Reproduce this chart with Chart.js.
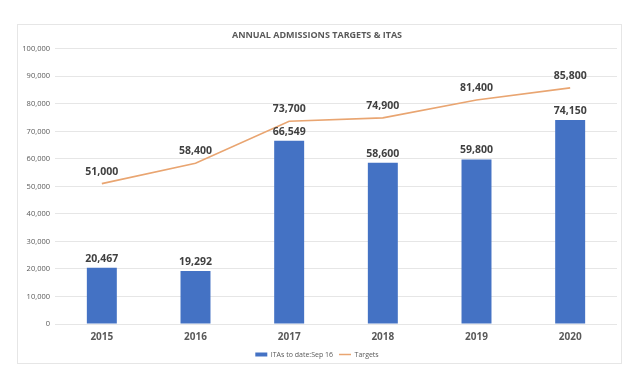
<!DOCTYPE html>
<html>
<head>
<meta charset="utf-8">
<script src="https://cdn.jsdelivr.net/npm/chart.js@4/dist/chart.umd.min.js"></script>
<style>
  html, body { margin: 0; padding: 0; background: #fff; }
  #wrap { width: 640px; height: 383px; position: relative; }
</style>
</head>
<body>
<div id="wrap"><canvas id="admissionsChart"></canvas></div>
<script>
// chart data
var years = ['2015', '2016', '2017', '2018', '2019', '2020'];
var itas = [20467, 19292, 66549, 58600, 59800, 74150];
var targets = [51000, 58400, 73700, 74900, 81400, 85800];

var barColor = '#4472C4';
var lineColor = '#E9A571';
var textColor = '#595959';
var fontFamily = '"Open Sans", sans-serif';

// white background + light frame round the chart
var framePlugin = {
    id: 'frame',
    beforeDraw: function (chart) {
        var ctx = chart.ctx;
        ctx.save();
        ctx.fillStyle = '#fff';
        ctx.fillRect(0, 0, chart.width, chart.height);
        ctx.strokeStyle = '#e6e6e6';
        ctx.lineWidth = 1;
        ctx.strokeRect(17.5, 24.5, 604, 339);
        ctx.restore();
    }
};

// value labels over bars and line points
var valueLabels = {
    id: 'valueLabels',
    afterDatasetsDraw: function (chart) {
        var ctx = chart.ctx;
        ctx.save();
        ctx.fillStyle = '#404040';
        ctx.font = 'bold 10.5px ' + fontFamily;
        ctx.textAlign = 'center';
        ctx.textBaseline = 'middle';
        chart.data.datasets.forEach(function (ds, i) {
            var meta = chart.getDatasetMeta(i);
            var gap = ds.type === 'line' ? 12 : 9;
            meta.data.forEach(function (el, j) {
                ctx.fillText(ds.data[j].toLocaleString('en-US'), el.x, el.y - gap);
            });
        });
        ctx.restore();
    }
};

var ctx = document.getElementById('admissionsChart');

new Chart(ctx, {
    data: {
        labels: years,
        datasets: [{
            type: 'bar',
            label: 'ITAs to date:Sep 16',
            data: itas,
            backgroundColor: barColor,
            barPercentage: 0.32,
            categoryPercentage: 1,
            order: 1
        }, {
            type: 'line',
            label: 'Targets',
            data: targets,
            borderColor: lineColor,
            backgroundColor: lineColor,
            borderWidth: 1.6,
            pointRadius: 0,
            tension: 0,
            order: 0
        }]
    },
    options: {
        responsive: true,
        maintainAspectRatio: false,
        animation: false,
        layout: {
            padding: { top: 28, right: 23, bottom: 15, left: 17 }
        },
        plugins: {
            tooltip: { enabled: false },
            title: {
                display: true,
                text: 'ANNUAL ADMISSIONS TARGETS & ITAS',
                color: textColor,
                font: { family: fontFamily, size: 9, weight: 'bold' },
                padding: { top: 2, bottom: 8 }
            },
            legend: {
                position: 'bottom',
                labels: {
                    color: textColor,
                    font: { family: fontFamily, size: 7 },
                    usePointStyle: true,
                    pointStyleWidth: 12,
                    boxHeight: 4,
                    padding: 6,
                    generateLabels: function (chart) {
                        var items = Chart.defaults.plugins.legend.labels.generateLabels(chart);
                        items.sort(function (a, b) { return a.datasetIndex - b.datasetIndex; });
                        items[0].pointStyle = 'rect';
                        items[0].lineWidth = 0;
                        items[1].pointStyle = 'line';
                        items[1].strokeStyle = lineColor;
                        items[1].lineWidth = 1.5;
                        return items;
                    }
                }
            }
        },
        scales: {
            x: {
                afterFit: function (scale) { scale.height = 21; },
                grid: { display: false, drawTicks: false },
                border: { display: false },
                ticks: {
                    color: textColor,
                    font: { family: fontFamily, size: 10, weight: 'bold' },
                    padding: 7
                }
            },
            y: {
                min: 0,
                max: 100000,
                afterFit: function (scale) { scale.width = 38; },
                grid: { color: '#e6e6e6', drawTicks: false },
                border: { display: false },
                ticks: {
                    stepSize: 10000,
                    color: textColor,
                    font: { family: fontFamily, size: 7.5 },
                    padding: 5,
                    callback: function (v) { return v.toLocaleString('en-US'); }
                }
            }
        }
    },
    plugins: [framePlugin, valueLabels]
});
</script>
</body>
</html>
